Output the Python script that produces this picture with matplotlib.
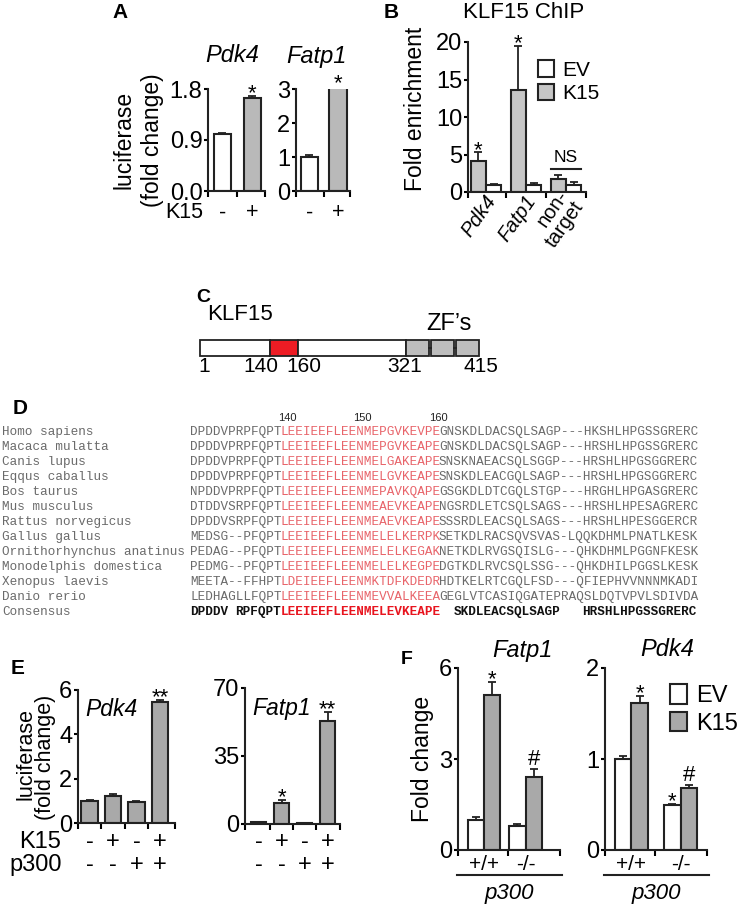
import re

import matplotlib

matplotlib.use("Agg")
import matplotlib.pyplot as plt
import numpy as np
from matplotlib.patches import Rectangle
from matplotlib.transforms import blended_transform_factory

plt.rcParams["font.family"] = ["Liberation Sans", "DejaVu Sans"]

W, H, DPI = 741, 909, 100

# ---------------- data ----------------
# A: luciferase reporter, EV vs K15
a_k15 = ["-", "+"]
a_pdk4 = [1.0, 1.64]
a_pdk4_err = [0.03, 0.04]
a_pdk4_ticks = [0.0, 0.9, 1.8]
a_fatp1 = [1.0, 3.05]
a_fatp1_err = [0.07, 0.05]
a_fatp1_ticks = [0, 1, 2, 3]

# B: KLF15 ChIP
b_targets = ["Pdk4", "Fatp1", "non-\ntarget"]
b_k15 = [4.1, 13.6, 1.8]
b_k15_err = [1.2, 5.9, 0.5]
b_ev = [1.0, 1.0, 1.0]
b_ev_err = [0.12, 0.15, 0.35]
b_sig = ["*", "*", ""]
b_ticks = [0, 5, 10, 15, 20]

# C: KLF15 domain map
klf15_marks = [1, 140, 160, 321, 415]

# D: alignment
species = ["Homo sapiens", "Macaca mulatta", "Canis lupus", "Eqqus caballus",
           "Bos taurus", "Mus musculus", "Rattus norvegicus", "Gallus gallus",
           "Ornithorhynchus anatinus", "Monodelphis domestica", "Xenopus laevis",
           "Danio rerio"]
seqs = [
    "DPDDVPRPFQPTLEEIEEFLEENMEPGVKEVPEGNSKDLDACSQLSAGP---HKSHLHPGSSGRERC",
    "DPDDVPRPFQPTLEEIEEFLEENMEPGVKEAPEGNSKDLDACSQLSAGP---HRSHLHPGSSGRERC",
    "DPDDVPRPFQPTLEEIEEFLEENMELGAKEAPESNSKNAEACSQLSGGP---HRSHLHPGSGGRERC",
    "DPDDVPRPFQPTLEEIEEFLEENMELGVKEAPESNSKDLEACGQLSAGP---HRSHLHPGSGGRERC",
    "NPDDVPRPFQPTLEEIEEFLEENMEPAVKQAPEGSGKDLDTCGQLSTGP---HRGHLHPGASGRERC",
    "DTDDVSRPFQPTLEEIEEFLEENMEAEVKEAPENGSRDLETCSQLSAGS---HRSHLHPESAGRERC",
    "DPDDVSRPFQPTLEEIEEFLEENMEAEVKEAPESSSRDLEACSQLSAGS---HRSHLHPESGGERCR",
    "MEDSG--PFQPTLEEIEEFLEENMELELKERPKSETKDLRACSQVSVAS-LQQKDHMLPNATLKESK",
    "PEDAG--PFQPTLEEIEEFLEENMELELKEGAKNETKDLRVGSQISLG---QHKDHMLPGGNFKESK",
    "PEDMG--PFQPTLEEIEEFLEENMELELKEGPEDGTKDLRVCSQLSSG---QHKDHILPGGSLKESK",
    "MEETA--FFHPTLDEIEEFLEENMKTDFKDEDRHDTKELRTCGQLFSD---QFIEPHVVNNNMKADI",
    "LEDHAGLLFQPTLEEIEEFLEENMEVVALKEEAGEGLVTCASIQGATEPRAQSLDQTVPVLSDIVDA",
]
consensus = "DPDDV RPFQPTLEEIEEFLEENMELEVKEAPE  SKDLEACSQLSAGP   HRSHLHPGSSGRERC"
seq_first_res = 128
ad_start, ad_end = 140, 160
pos_labels = [140, 150, 160]

# E: luciferase with p300
e_k15 = ["-", "+", "-", "+"]
e_p300 = ["-", "-", "+", "+"]
e_pdk4 = [1.0, 1.22, 0.95, 5.45]
e_pdk4_err = [0.06, 0.07, 0.03, 0.12]
e_pdk4_sig = ["", "", "", "**"]
e_fatp1 = [0.9, 11.0, 0.4, 53.0]
e_fatp1_err = [0.3, 1.3, 0.1, 4.8]
e_fatp1_sig = ["", "*", "", "**"]

# F: p300 +/+ vs -/-
f_geno = ["+/+", "-/-"]
f_fatp1_ev = [1.0, 0.8]
f_fatp1_ev_err = [0.1, 0.05]
f_fatp1_k15 = [5.1, 2.42]
f_fatp1_k15_err = [0.45, 0.25]
f_fatp1_ev_sig = ["", ""]
f_fatp1_k15_sig = ["*", "#"]
f_pdk4_ev = [1.0, 0.49]
f_pdk4_ev_err = [0.03, 0.02]
f_pdk4_k15 = [1.62, 0.68]
f_pdk4_k15_err = [0.07, 0.03]
f_pdk4_ev_sig = ["", "*"]
f_pdk4_k15_sig = ["*", "#"]

# ---------------- style ----------------
EDGE = "#222222"
GRAY_A = "#b9b9b9"
GRAY_B = "#c6c6c6"
GRAY_E = "#a9a9a9"
GRAY_F = "#a9a9a9"
TICK_FS = 17
LAB_FS = 16.5

fig = plt.figure(figsize=(W / DPI, H / DPI), dpi=DPI)
ov = fig.add_axes([0, 0, 1, 1])
ov.set_xlim(0, W)
ov.set_ylim(H, 0)
ov.axis("off")


def add_ax(left, top, right, bottom):
    return fig.add_axes([left / W, 1 - bottom / H, (right - left) / W, (bottom - top) / H])


def style(ax, ylim, yticks, xlim, xticks, ylabels=None):
    for s in ["top", "right"]:
        ax.spines[s].set_visible(False)
    for s in ["left", "bottom"]:
        ax.spines[s].set_linewidth(1.5)
        ax.spines[s].set_color(EDGE)
    ax.set_ylim(*ylim)
    ax.set_yticks(yticks)
    if ylabels is not None:
        ax.set_yticklabels(ylabels)
    ax.set_xlim(*xlim)
    ax.set_xticks(xticks)
    ax.set_xticklabels([])
    ax.tick_params(axis="y", direction="out", length=3, width=1.5, labelsize=TICK_FS, pad=1)
    ax.tick_params(axis="x", direction="out", length=4, width=1.5)
    ax.patch.set_alpha(0)


def bars(ax, x, vals, errs, color, width, label=None):
    b = ax.bar(x, vals, width, color=color, edgecolor=EDGE, linewidth=1.5, zorder=2, label=label)
    ax.errorbar(x, vals, yerr=[np.zeros(len(vals)), errs], fmt="none", ecolor=EDGE,
                elinewidth=1.3, capsize=3, capthick=1.3, zorder=1)
    return b


def sig(ax, x, vals, errs, marks, size=16):
    for xi, v, e, m in zip(x, vals, errs, marks):
        if not m:
            continue
        dy = 3 if m == "#" else -2.5
        ax.annotate(m, (xi, v + e), xytext=(0, dy), textcoords="offset points",
                    ha="center", va="baseline", fontsize=size, annotation_clip=False)


def under(ax):
    return blended_transform_factory(ax.transData, ov.transData)


# ---------------- panel A ----------------
ov.text(120, 12, "A", fontsize=15, fontweight="bold", ha="center", va="center")
ov.text(124, 140, "luciferase", rotation=90, fontsize=LAB_FS, ha="center", va="center")
ov.text(152, 140, "(fold change)", rotation=90, fontsize=LAB_FS, ha="center", va="center")
ov.text(203, 213, "K15", fontsize=15.5, ha="right", va="center")

for box, vals, errs, ticks, lab, xlim, w, title, tx in [
    ((208, 89, 265, 191), a_pdk4, a_pdk4_err, a_pdk4_ticks,
     [f"{t:.1f}" for t in a_pdk4_ticks], (-0.48, 1.42), 0.58, "Pdk4", 232),
    ((296, 89, 350, 191), a_fatp1, a_fatp1_err, a_fatp1_ticks,
     [str(t) for t in a_fatp1_ticks], (-0.47, 1.42), 0.62, "Fatp1", 316),
]:
    ax = add_ax(*box)
    style(ax, (0, ticks[-1]), ticks, xlim, [xlim[0], 0.5, xlim[1]], lab)
    x = np.arange(len(vals))
    bars(ax, x, vals, errs, ["white", GRAY_A], w)
    sig(ax, x[1:], vals[1:], errs[1:], ["*"])
    ov.text(tx, 56, title, fontsize=17, style="italic", ha="center", va="center")
    for xi, s in zip(x, a_k15):
        ax.text(xi, 213, s, transform=under(ax), fontsize=15.5, ha="center", va="center")

# ---------------- panel B ----------------
ov.text(391, 13, "B", fontsize=15, fontweight="bold", ha="center", va="center")
ov.text(463, 13, "KLF15 ChIP", fontsize=16, ha="left", va="center")
ov.text(415, 109, "Fold enrichment", rotation=90, fontsize=LAB_FS, ha="center", va="center")
axB = add_ax(468, 42, 586, 192)
bx = np.arange(len(b_targets))
style(axB, (0, 20), b_ticks, (-0.45, 2.5), [-0.45, 0.5, 1.5, 2.5])
bw = 0.38
hk = bars(axB, bx - bw / 2, b_k15, b_k15_err, GRAY_B, bw, "K15")
he = bars(axB, bx + bw / 2, b_ev, b_ev_err, "white", bw, "EV")
sig(axB, bx - bw / 2, b_k15, b_k15_err, b_sig)
axB.plot([2 - bw, 2 + bw], [3.1, 3.1], color=EDGE, lw=1.5, clip_on=False)
axB.text(2, 3.6, "NS", fontsize=12.5, ha="center", va="bottom")
axB.set_xticks(bx + 0.15, minor=True)
axB.set_xticklabels(b_targets, minor=True, rotation=55, ha="right", va="center",
                    rotation_mode="anchor", fontsize=14.5, ma="right", linespacing=1.0)
axB.tick_params(axis="x", which="minor", length=0, pad=4)
for t in axB.get_xticklabels(minor=True)[:2]:
    t.set_style("italic")
axB.legend(handles=[he, hk], loc="upper left", bbox_to_anchor=(538 / W, 1 - 60 / H),
           bbox_transform=fig.transFigure, frameon=False, fontsize=15,
           handlelength=0.75, handleheight=0.85, handletextpad=0.4,
           labelspacing=0.2, borderpad=0, borderaxespad=0)

# ---------------- panel C ----------------
ov.text(203, 297, "C", fontsize=14, fontweight="bold", ha="center", va="center")
c_px = [200, 270, 298, 406, 479]        # schematic (not to scale) positions of the marks
c_lab_dx = [4, -9, 6, -1, 2]            # label offsets from the marks
c_top, c_h = 340, 16
seg_cols = ["white", "#ee1c24", "white"]
for i, col in enumerate(seg_cols):
    ov.add_patch(Rectangle((c_px[i], c_top), c_px[i + 1] - c_px[i], c_h,
                           facecolor=col, edgecolor=EDGE, lw=1.3))
zf_w = (c_px[4] - c_px[3] - 4) / 3
for k in range(3):
    x0 = c_px[3] + k * (zf_w + 2)
    ov.add_patch(Rectangle((x0, c_top), zf_w, c_h, facecolor="#bdbdbd", edgecolor=EDGE, lw=1.3))
    if k:
        ov.plot([x0 - 2, x0], [c_top + c_h / 2] * 2, color=EDGE, lw=1.3)
for m, xp, dx in zip(klf15_marks, c_px, c_lab_dx):
    ov.text(xp + dx, 367, str(m), fontsize=15, ha="center", va="center")
ov.text(207, 315, "KLF15", fontsize=16, ha="left", va="center")
ov.text(449, 324, "ZF\u2019s", fontsize=17, ha="center", va="center")

# ---------------- panel D ----------------
ov.text(20, 409, "D", fontsize=15, fontweight="bold", ha="center", va="center")
MONO = "Liberation Mono"
fs_d = 9.05
cw = 0.6 * fs_d * DPI / 72
x_seq, y0, dy = 190, 432, 15
SEQ_GREY, SEQ_RED = "#6a6a6a", "#e8646a"
a_col = ad_start - seq_first_res
b_col = ad_end - seq_first_res + 1


def draw_seq(seq, y, grey, red, weight):
    for lo, hi, col in [(0, a_col, grey), (a_col, b_col, red), (b_col, len(seq), grey)]:
        part = seq[lo:hi]
        for m in re.finditer(r"\S+", part):
            ov.text(x_seq + (lo + m.start()) * cw, y, m.group(), family=MONO, fontsize=fs_d,
                    color=col, fontweight=weight, ha="left", va="center")


for p in pos_labels:
    ov.text(x_seq + (p - seq_first_res + 0.5) * cw + 3, 418, str(p), fontsize=8,
            color="#222222", ha="center", va="center")
for i, (name, s) in enumerate(zip(species, seqs)):
    y = y0 + i * dy
    ov.text(2, y, name, family=MONO, fontsize=fs_d, color=SEQ_GREY, ha="left", va="center")
    draw_seq(s, y, SEQ_GREY, SEQ_RED, "normal")
yc = y0 + len(seqs) * dy
ov.text(2, yc, "Consensus", family=MONO, fontsize=fs_d, color=SEQ_GREY, ha="left", va="center")
draw_seq(consensus, yc, "#111111", "#e8141e", "bold")

# ---------------- panel E ----------------
ov.text(18, 668, "E", fontsize=15, fontweight="bold", ha="center", va="center")
ov.text(26, 754, "luciferase", rotation=90, fontsize=15.5, ha="center", va="center")
ov.text(46, 757, "(fold change)", rotation=90, fontsize=15.5, ha="center", va="center")
ov.text(61, 842, "K15", fontsize=17, ha="right", va="center")
ov.text(62, 865, "p300", fontsize=17, ha="right", va="center")
ex = np.arange(len(e_k15))
for box, vals, errs, marks, ylim, ticks, xlim, w, title, tx in [
    ((78, 690, 175, 823), e_pdk4, e_pdk4_err, e_pdk4_sig, 6, [0, 2, 4, 6],
     (-0.49, 3.64), 0.7, "Pdk4", 111),
    ((245, 688, 340, 824), e_fatp1, e_fatp1_err, e_fatp1_sig, 70, [0, 35, 70],
     (-0.59, 3.54), 0.63, "Fatp1", 282),
]:
    ax = add_ax(*box)
    style(ax, (0, ylim), ticks, xlim, [xlim[0], 0.5, 1.5, 2.5, xlim[1]])
    bars(ax, ex, vals, errs, GRAY_E, w)
    sig(ax, ex, vals, errs, marks)
    ov.text(tx, 709, title, fontsize=16.5, style="italic", ha="center", va="center")
    for xi, s1, s2 in zip(ex, e_k15, e_p300):
        ax.text(xi, 842, s1, transform=under(ax), fontsize=17, ha="center", va="center")
        ax.text(xi, 865, s2, transform=under(ax), fontsize=17, ha="center", va="center")

# ---------------- panel F ----------------
ov.text(407, 660, "F", fontsize=14, fontweight="bold", ha="center", va="center")
ov.text(423, 759, "Fold change", rotation=90, fontsize=LAB_FS, ha="center", va="center")
fx = np.arange(len(f_geno))
for box, ev, eve, k15, k15e, evs, k15s, ylim, ticks, xlim, mid, w, title, tx in [
    ((458, 668, 560, 850), f_fatp1_ev, f_fatp1_ev_err, f_fatp1_k15, f_fatp1_k15_err,
     f_fatp1_ev_sig, f_fatp1_k15_sig, 6, [0, 3, 6], (-0.63, 1.83), 0.58, 0.39, "Fatp1", 522),
    ((605, 668, 707, 850), f_pdk4_ev, f_pdk4_ev_err, f_pdk4_k15, f_pdk4_k15_err,
     f_pdk4_ev_sig, f_pdk4_k15_sig, 2, [0, 1, 2], (-0.54, 1.54), 0.48, 0.34, "Pdk4", 667),
]:
    ax = add_ax(*box)
    style(ax, (0, ylim), ticks, xlim, [xlim[0], mid, xlim[1]])
    h_ev = bars(ax, fx - w / 2, ev, eve, "white", w, "EV")
    h_k = bars(ax, fx + w / 2, k15, k15e, GRAY_F, w, "K15")
    sig(ax, fx - w / 2, ev, eve, evs)
    sig(ax, fx + w / 2, k15, k15e, k15s)
    ov.text(tx, 650, title, fontsize=17, style="italic", ha="center", va="center")
    for xi, g in zip(fx, f_geno):
        ax.text(xi, 864, g, transform=under(ax), fontsize=15, ha="center", va="center")
    ov.plot([box[0] - 1, box[2] + 2], [875, 875], color=EDGE, lw=1.5)
    ov.text((box[0] + box[2]) / 2, 894, "p300", fontsize=16, style="italic",
            ha="center", va="center")
ax.legend(handles=[h_ev, h_k], loc="upper left", bbox_to_anchor=(670 / W, 1 - 684 / H),
          bbox_transform=fig.transFigure, frameon=False, fontsize=17,
          handlelength=0.7, handleheight=0.9, handletextpad=0.4,
          labelspacing=0.2, borderpad=0, borderaxespad=0)

fig.savefig("out.png", dpi=DPI)
